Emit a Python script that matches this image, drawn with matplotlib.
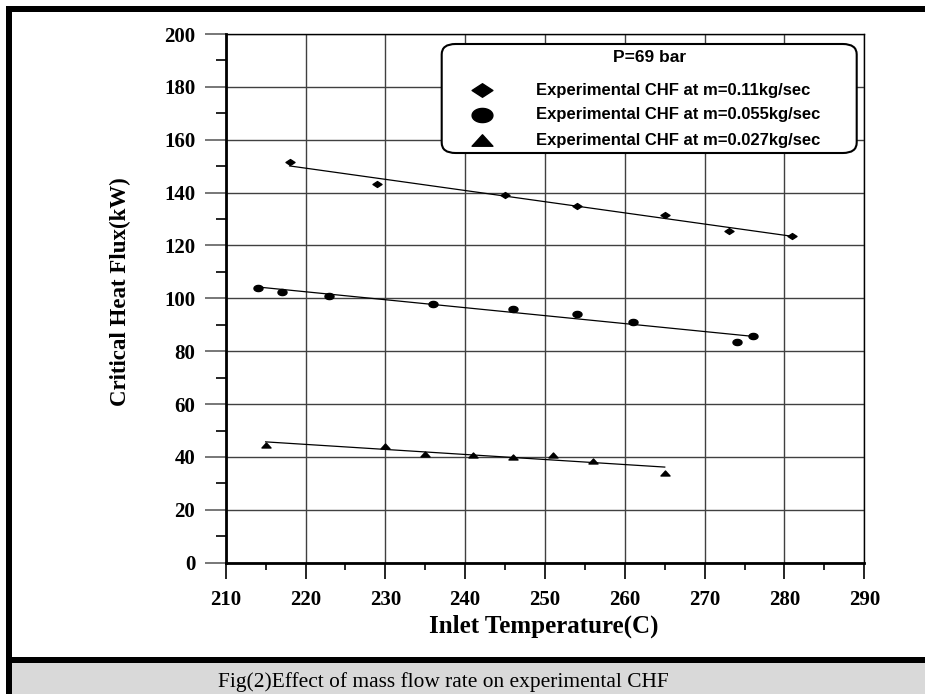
import matplotlib
matplotlib.use("Agg")
import matplotlib.pyplot as plt
import numpy as np
from matplotlib.path import Path
from matplotlib.patches import FancyBboxPatch, Rectangle
from matplotlib.lines import Line2D

# data
t_011 = [218, 229, 245, 254, 265, 273, 281]
q_011 = [151.6, 143.1, 139.0, 135.0, 131.6, 125.6, 123.7]
t_0055 = [214, 217, 223, 236, 246, 254, 261, 274, 276]
q_0055 = [104.0, 102.5, 101.0, 98.0, 96.0, 94.2, 91.0, 83.4, 85.8]
t_0027 = [215, 230, 235, 241, 246, 251, 256, 265]
q_0027 = [44.6, 44.0, 41.2, 40.6, 40.1, 40.8, 38.6, 34.0]
labels = ["Experimental CHF at m=0.11kg/sec",
          "Experimental CHF at m=0.055kg/sec",
          "Experimental CHF at m=0.027kg/sec"]

# squashed markers like the original picture
diamond = Path([(-1, 0), (0, 0.65), (1, 0), (0, -0.65), (-1, 0)],
               [Path.MOVETO, Path.LINETO, Path.LINETO, Path.LINETO, Path.CLOSEPOLY])
th = np.linspace(0, 2 * np.pi, 40)
ellipse = Path(np.column_stack([np.cos(th), 0.68 * np.sin(th)]), closed=True)
tri = Path([(-1, -0.55), (0, 0.55), (1, -0.55), (-1, -0.55)],
           [Path.MOVETO, Path.LINETO, Path.LINETO, Path.CLOSEPOLY])
markers = [diamond, ellipse, tri]

W, H = 925, 694
fig = plt.figure(figsize=(9.25, 6.94), dpi=100)
fig.patch.set_facecolor("white")

def fx(px):
    return px / W

def fy(py):
    return 1 - py / H

ax = fig.add_axes([fx(225.7), fy(562.7), fx(864.3) - fx(225.7), fy(34) - fy(562.7)])

series = [(t_011, q_011), (t_0055, q_0055), (t_0027, q_0027)]
for (t, q), m in zip(series, markers):
    t = np.array(t)
    q = np.array(q)
    k, b = np.polyfit(t, q, 1)
    xs = np.array([t.min(), t.max()])
    ax.plot(xs, k * xs + b, color="black", lw=0.9, zorder=3)
    ax.plot(t, q, linestyle="none", marker=m, ms=6.5, color="black", zorder=4)

ax.set_xlim(210, 290)
ax.set_ylim(0, 200)
ax.set_xticks(np.arange(210, 291, 10))
ax.set_xticks(np.arange(215, 290, 10), minor=True)
ax.set_yticks(np.arange(0, 201, 20))
ax.set_yticks(np.arange(10, 200, 20), minor=True)
ax.grid(True, which="major", color="#404040", lw=1.0)

for s in ["left", "bottom"]:
    ax.spines[s].set_linewidth(2)
for s in ["top", "right"]:
    ax.spines[s].set_linewidth(1)

tick_font = dict(family="Liberation Serif", weight="bold", size=15)
ax.tick_params(axis="y", which="major", direction="out", length=15, width=1.2,
               color="#606060", pad=7)
ax.tick_params(axis="y", which="minor", direction="out", length=7, width=1.2)
ax.tick_params(axis="x", which="major", direction="out", length=11.5, width=1.2, pad=8)
ax.tick_params(axis="x", which="minor", direction="out", length=5, width=1.2)
for lab in ax.get_xticklabels() + ax.get_yticklabels():
    lab.set_fontproperties(matplotlib.font_manager.FontProperties(**tick_font))

fig.text(fx(120), fy(292), "Critical Heat Flux(kW)", rotation=90, ha="center", va="center",
         family="Liberation Serif", weight="bold", size=16.5)
fig.text(fx(544), fy(626), "Inlet Temperature(C)", ha="center", va="center",
         family="Liberation Serif", weight="bold", size=18)

# legend box
box = FancyBboxPatch((fx(441.7), fy(153)), fx(856.7) - fx(441.7), fy(44) - fy(153),
                     boxstyle="round,pad=0,rounding_size=0.015", transform=fig.transFigure,
                     facecolor="white", edgecolor="black", lw=1.5, zorder=5)
fig.add_artist(box)
fig.text(fx(650), fy(58), "P=69 bar", ha="center", va="center", family="Liberation Sans",
         weight="bold", size=12.5, zorder=6)
for i, (m, lab) in enumerate(zip(markers, labels)):
    yy = fy(90 + 25 * i)
    fig.add_artist(Line2D([fx(481.7)], [yy], marker=m, ms=15, color="black",
                          linestyle="none", transform=fig.transFigure, zorder=6))
    fig.text(fx(536), yy, lab, ha="left", va="center", family="Liberation Sans",
             weight="bold", size=12, zorder=6)

# frame and caption bar
fig.add_artist(Rectangle((fx(12), 0), 1, fy(663), transform=fig.transFigure,
                         facecolor="#d9d9d9", edgecolor="none", zorder=0))
for rect in [(fx(6), fy(12), 1, fy(6) - fy(12)),
             (fx(6), 0, fx(12) - fx(6), 1 - 6 / H),
             (fx(6), fy(663), 1, fy(657) - fy(663))]:
    fig.add_artist(Rectangle(rect[:2], rect[2], rect[3], transform=fig.transFigure,
                             facecolor="black", edgecolor="none", zorder=1))
fig.text(fx(443), fy(687), "Fig(2)Effect of mass flow rate on experimental CHF",
         ha="center", va="baseline", family="Liberation Serif", size=15.4)

fig.savefig("out.png", dpi=100)
